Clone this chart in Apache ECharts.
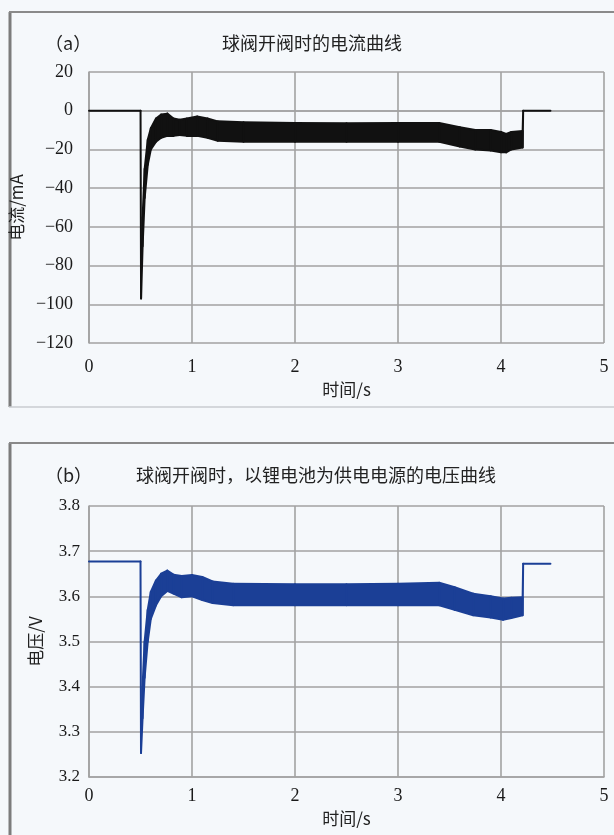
<!DOCTYPE html>
<html><head><meta charset="utf-8">
<script src="https://cdn.jsdelivr.net/npm/echarts@6/dist/echarts.min.js"></script>
<style>html,body{margin:0;padding:0;background:#f5f8fb;}#c{width:614px;height:835px;}</style>
</head><body><div id="c"></div>
<script>
// ---- data ----
const timeA        = [0, 0.5, 0.505, 0.52, 0.54, 0.57, 0.6, 0.65, 0.7, 0.76, 0.82, 0.88, 0.95, 1.05, 1.15, 1.25, 1.5, 2.0, 2.5, 3.0, 3.4, 3.6, 3.75, 3.9, 4.0, 4.05, 4.1, 4.21, 4.215, 4.48];
const currentUpper = [0, 0, -97, -55, -30, -15, -9, -4, -2, -1.5, -4, -4.7, -4, -3, -4, -5.5, -6, -6.3, -6.5, -6.3, -6.3, -8.5, -10, -10, -11, -12, -11, -10.5, 0, 0];
const currentLower = [0, 0, -97, -70, -45, -28, -20, -16, -14, -13, -13, -12.5, -13, -13, -14, -15.5, -16, -16, -16, -16, -16, -18.5, -20, -20.5, -21.5, -21.5, -20, -19, 0, 0];

const timeB        = [0, 0.5, 0.505, 0.52, 0.54, 0.57, 0.6, 0.65, 0.7, 0.76, 0.82, 0.9, 1.0, 1.1, 1.2, 1.4, 2.0, 2.5, 3.0, 3.4, 3.55, 3.73, 3.9, 4.02, 4.1, 4.21, 4.215, 4.48];
const voltageUpper = [3.677, 3.677, 3.253, 3.40, 3.50, 3.57, 3.61, 3.635, 3.65, 3.657, 3.648, 3.645, 3.647, 3.643, 3.633, 3.628, 3.627, 3.627, 3.628, 3.63, 3.62, 3.606, 3.60, 3.595, 3.597, 3.598, 3.672, 3.672];
const voltageLower = [3.677, 3.677, 3.253, 3.33, 3.42, 3.50, 3.55, 3.58, 3.60, 3.612, 3.606, 3.598, 3.60, 3.592, 3.585, 3.58, 3.58, 3.58, 3.58, 3.58, 3.57, 3.558, 3.553, 3.548, 3.552, 3.558, 3.672, 3.672];

const xTickValues = [0, 1, 2, 3, 4, 5];
const yTicksA = [-120, -100, -80, -60, -40, -20, 0, 20];
const yTicksB = [3.2, 3.3, 3.4, 3.5, 3.6, 3.7, 3.8];

const titleA = '球阀开阀时的电流曲线';
const titleB = '球阀开阀时，以锂电池为供电电源的电压曲线';
const tagA = '（a）', tagB = '（b）';
const xName = '时间/s', yNameA = '电流/mA', yNameB = '电压/V';

// ---- helpers ----
const serif = "'Liberation Serif', 'DejaVu Serif', serif";
const cjk = "'Noto Sans CJK SC', sans-serif";
const gridCol = '#a2a2a2';
const lineBlack = '#111111';
const lineBlue = '#1b3f96';

// one data item per segment: [t0, up0, lo0, t1, up1, lo1]
const segments = (t, up, lo) => t.slice(0, -1).map((x, i) => [x, up[i], lo[i], t[i + 1], up[i + 1], lo[i + 1]]);

function xAxisCfg(gi, margin, nameGap) {
  return {
    type: 'value', gridIndex: gi, min: xTickValues[0], max: xTickValues[xTickValues.length - 1], interval: 1,
    name: xName, nameLocation: 'middle', nameGap: nameGap,
    nameTextStyle: { fontFamily: cjk, fontSize: 17, color: '#222' },
    axisLine: { show: true, lineStyle: { color: gridCol, width: 1.6 } },
    axisTick: { show: false },
    axisLabel: { fontFamily: serif, fontSize: 18, color: '#1a1a1a', margin: margin },
    splitLine: { show: true, lineStyle: { color: gridCol, width: 1.6 } }
  };
}
function yAxisCfg(gi, ticks, name, margin, fs, fmt) {
  return {
    type: 'value', gridIndex: gi, min: ticks[0], max: ticks[ticks.length - 1],
    interval: +(ticks[1] - ticks[0]).toFixed(5),
    name: name, nameLocation: 'middle', nameGap: 45, nameRotate: 90,
    nameTextStyle: { fontFamily: cjk, fontSize: 17, color: '#222' },
    axisLine: { show: true, lineStyle: { color: gridCol, width: 1.6 } },
    axisTick: { show: false },
    axisLabel: { fontFamily: serif, fontSize: fs, color: '#1a1a1a', margin: margin, formatter: fmt },
    splitLine: { show: true, lineStyle: { color: gridCol, width: 1.6 } }
  };
}
function bandSeries(idx, t, up, lo, color) {
  return {
    type: 'custom', xAxisIndex: idx, yAxisIndex: idx, z: 3,
    data: segments(t, up, lo),
    encode: { x: [0, 3], y: [1, 2, 4, 5] },
    renderItem: function (params, api) {
      const a = api.coord([api.value(0), api.value(1)]);
      const b = api.coord([api.value(3), api.value(4)]);
      const c = api.coord([api.value(3), api.value(5)]);
      const d = api.coord([api.value(0), api.value(2)]);
      return {
        type: 'polygon',
        shape: { points: [a, b, c, d] },
        style: { fill: color, stroke: color, lineWidth: 2, lineJoin: 'round' }
      };
    }
  };
}

const txt = (text, x, y, align, font) => ({
  type: 'text', x: x, y: y,
  style: { text: text, fill: '#222', font: font, textAlign: align, textVerticalAlign: 'middle' }
});

const chart = echarts.init(document.getElementById('c'), null, { renderer: 'canvas' });
chart.setOption({
  animation: false,
  backgroundColor: '#f5f8fb',
  graphic: [
    { type: 'line', shape: { x1: 10, y1: 12, x2: 10, y2: 407 }, style: { stroke: '#7c7c7c', lineWidth: 3 } },
    { type: 'line', shape: { x1: 9, y1: 12, x2: 620, y2: 12 }, style: { stroke: '#8a8a8a', lineWidth: 2 } },
    { type: 'line', shape: { x1: 9, y1: 407, x2: 620, y2: 407 }, style: { stroke: '#c9cdd1', lineWidth: 1.5 } },
    { type: 'line', shape: { x1: 10, y1: 443, x2: 10, y2: 840 }, style: { stroke: '#7c7c7c', lineWidth: 3 } },
    { type: 'line', shape: { x1: 9, y1: 443, x2: 620, y2: 443 }, style: { stroke: '#8a8a8a', lineWidth: 2 } },
    txt(tagA, 45, 43, 'left', "18px 'Noto Sans CJK SC', sans-serif"),
    txt(titleA, 312, 43, 'center', "18px 'Noto Sans CJK SC', sans-serif"),
    txt(tagB, 45, 475, 'left', "18px 'Noto Sans CJK SC', sans-serif"),
    txt(titleB, 316, 475, 'center', "18px 'Noto Sans CJK SC', sans-serif")
  ],
  grid: [
    { left: 89, right: 10, top: 72, height: 271, containLabel: false },
    { left: 89, right: 10, top: 506, height: 271, containLabel: false }
  ],
  xAxis: [ xAxisCfg(0, 15, 38), xAxisCfg(1, 10, 33) ],
  yAxis: [
    yAxisCfg(0, yTicksA, yNameA, 16, 18, v => String(v).replace('-', '\u2212')),
    yAxisCfg(1, yTicksB, yNameB, 9, 17, v => v.toFixed(1))
  ],
  series: [
    bandSeries(0, timeA, currentUpper, currentLower, lineBlack),
    bandSeries(1, timeB, voltageUpper, voltageLower, lineBlue)
  ]
});
</script></body></html>
